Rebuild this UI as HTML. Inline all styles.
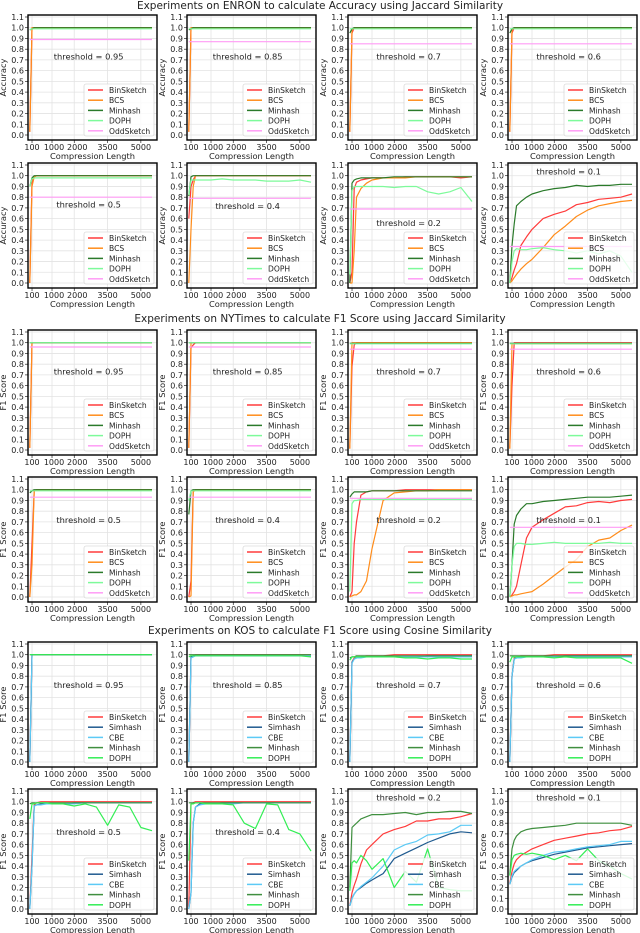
<!DOCTYPE html>
<html><head><meta charset="utf-8">
<style>
html,body{margin:0;padding:0;background:#fff;}
svg{display:block;font-family:"DejaVu Sans","Liberation Sans",sans-serif;}
</style></head>
<body>
<svg id="fig" width="640" height="933" viewBox="0 0 640 933" xmlns="http://www.w3.org/2000/svg"></svg>
<script>
const G = [0,100,200,300,500,750,1000,1500,2000,2500,3000,3500,4000,4500,5000,5500];
const xTicks = [100,1000,2000,3500,5000];
const xTickLabels = ["100","1000","2000","3500","5000"];
const yTicks = [0,0.1,0.2,0.3,0.4,0.5,0.6,0.7,0.8,0.9,1.0,1.1];
const sectionTitles = ["Experiments on ENRON to calculate Accuracy using Jaccard Similarity","Experiments on NYTimes to calculate F1 Score using Jaccard Similarity","Experiments on KOS to calculate F1 Score using Cosine Similarity"];
const yLabels = ["Accuracy","F1 Score","F1 Score"];
const namesJ = ["BinSketch","BCS","Minhash","DOPH","OddSketch"];
const namesC = ["BinSketch","Simhash","CBE","Minhash","DOPH"];
const thresholds = ["0.95","0.85","0.7","0.6","0.5","0.4","0.2","0.1"];
const labelY = [[0.73,0.73,0.73,0.73,0.73,0.72,0.56,1.04],[0.73,0.73,0.73,0.73,0.72,0.72,0.72,0.72],[0.72,0.72,0.72,0.72,0.72,0.72,1.04,1.04]];
function flat(v){return G.map(()=>v);}
function jump(a,b){return G.map((_,i)=>i===0?a:b);}
// ENRON
const e1=[jump(0.03,1),jump(0.03,1),[0.98,0.99,1,1,1,1,1,1,1,1,1,1,1,1,1,1],[0.98,0.99,0.99,0.99,0.99,0.99,0.99,0.99,0.99,0.99,0.99,0.99,0.99,0.99,0.99,0.99],flat(0.89)];
const e2=[jump(0.03,1),jump(0.03,1),[0.98,0.99,1,1,1,1,1,1,1,1,1,1,1,1,1,1],flat(0.99),flat(0.87)];
const e3=[[0.03,0.95,1,1,1,1,1,1,1,1,1,1,1,1,1,1],[0.03,0.98,1,1,1,1,1,1,1,1,1,1,1,1,1,1],[0.95,0.99,1,1,1,1,1,1,1,1,1,1,1,1,1,1],flat(0.99),flat(0.85)];
const e4=[[0.03,0.95,1,1,1,1,1,1,1,1,1,1,1,1,1,1],[0.03,0.98,1,1,1,1,1,1,1,1,1,1,1,1,1,1],[0.95,0.99,1,1,1,1,1,1,1,1,1,1,1,1,1,1],flat(0.99),flat(0.85)];
const e5=[[0,0.95,0.99,1,1,1,1,1,1,1,1,1,1,1,1,1],[0,0.9,0.99,1,1,1,1,1,1,1,1,1,1,1,1,1],[0.9,0.98,1,1,1,1,1,1,1,1,1,1,1,1,1,1],[0.9,0.97,0.98,0.98,0.98,0.98,0.98,0.98,0.98,0.98,0.98,0.98,0.98,0.98,0.98,0.98],flat(0.8)];
const e6=[[0.6,0.9,0.96,1,1,1,1,1,1,1,1,1,1,1,1,1],[0,0.5,0.9,1,1,1,1,1,1,1,1,1,1,1,1,1],[0.81,0.99,1,1,1,1,1,1,1,1,1,1,1,1,1,1],[0.82,0.96,0.96,0.96,0.96,0.96,0.96,0.97,0.96,0.96,0.96,0.95,0.95,0.95,0.96,0.94],flat(0.79)];
const e7=[[0,0.1,0.88,0.94,0.96,0.97,0.98,0.98,0.98,0.99,0.99,0.99,0.99,0.99,0.98,0.99],[0,0,0.3,0.8,0.88,0.93,0.96,0.98,0.98,0.98,0.99,0.99,0.99,0.99,0.99,0.99],[0,0.93,0.96,0.97,0.98,0.98,0.98,0.98,0.99,0.99,0.99,0.99,0.99,0.99,0.99,0.99],[0.08,0.86,0.9,0.9,0.9,0.9,0.9,0.9,0.89,0.9,0.9,0.85,0.83,0.85,0.89,0.76],flat(0.69)];
const e8=[[0,0.05,0.12,0.18,0.35,0.43,0.5,0.6,0.64,0.67,0.73,0.75,0.78,0.79,0.8,0.83],[0,0.02,0.05,0.08,0.13,0.18,0.22,0.33,0.45,0.53,0.62,0.68,0.72,0.74,0.76,0.77],[0,0.35,0.55,0.72,0.76,0.8,0.83,0.86,0.88,0.89,0.91,0.9,0.91,0.91,0.92,0.92],[0,0.2,0.3,0.32,0.31,0.31,0.32,0.33,0.31,0.3,0.28,0.3,0.27,0.3,0.25,0.1],flat(0.34)];
// NYTimes
const n1=[jump(0.02,1),jump(0.02,1),flat(1),flat(1),flat(0.96)];
const n2=[[0.02,0.95,0.98,1,1,1,1,1,1,1,1,1,1,1,1,1],jump(0.02,1),flat(1),flat(1),flat(0.96)];
const n3=[[0.02,0.78,0.98,1,1,1,1,1,1,1,1,1,1,1,1,1],jump(0.01,1),flat(0.995),flat(0.99),flat(0.94)];
const n4=[[0.02,0.6,1,1,1,1,1,1,1,1,1,1,1,1,1,1],jump(0.01,0.99),flat(0.995),flat(0.99),flat(0.94)];
const n5=[[0,0.5,0.99,1,1,1,1,1,1,1,1,1,1,1,1,1],[0,0.3,0.99,1,1,1,1,1,1,1,1,1,1,1,1,1],[0.97,0.99,1,1,1,1,1,1,1,1,1,1,1,1,1,1],flat(0.99),flat(0.93)];
const n6=[[0,0.15,0.99,1,1,1,1,1,1,1,1,1,1,1,1,1],[0,0.01,0.98,1,1,1,1,1,1,1,1,1,1,1,1,1],[0.77,0.99,1,1,1,1,1,1,1,1,1,1,1,1,1,1],[0.9,0.99,0.99,0.99,0.99,0.99,0.99,0.99,0.99,0.99,0.99,0.99,0.99,0.99,0.99,0.99],flat(0.93)];
const n7=[[0,0.05,0.5,0.7,0.95,0.98,0.99,0.99,0.99,1,1,1,1,1,1,1],[0,0.01,0.02,0.02,0.05,0.15,0.45,0.9,0.97,0.98,0.99,0.99,1,1,1,1],[0.93,0.96,0.98,0.98,0.98,0.98,0.99,0.99,0.99,0.99,0.99,0.99,0.99,0.99,0.99,0.99],[0.05,0.87,0.9,0.9,0.91,0.91,0.91,0.91,0.91,0.91,0.91,0.91,0.91,0.91,0.91,0.91],flat(0.92)];
const n8=[[0,0.02,0.05,0.1,0.3,0.55,0.65,0.72,0.78,0.84,0.85,0.88,0.89,0.88,0.9,0.91],[0,0.01,0.02,0.02,0.03,0.04,0.05,0.12,0.2,0.28,0.35,0.47,0.53,0.55,0.62,0.67],[0,0.3,0.68,0.76,0.82,0.87,0.87,0.89,0.9,0.91,0.92,0.93,0.93,0.93,0.94,0.95],[0,0.3,0.47,0.5,0.5,0.49,0.49,0.5,0.51,0.5,0.5,0.5,0.5,0.51,0.5,0.5],flat(0.65)];
// KOS
const k1=[jump(0,1),jump(0,1),jump(0,1),flat(1),flat(1)];
const k2=[[0,0.98,0.99,1,1,1,1,1,1,1,1,1,1,1,1,1],[0,0.98,0.99,0.99,0.99,0.99,0.99,0.99,0.99,0.99,0.99,0.99,0.99,0.99,0.99,0.99],[0,0.97,0.98,0.99,0.99,0.99,0.99,0.99,0.99,0.99,0.99,0.99,0.99,0.99,0.99,0.99],flat(1),[0.98,0.99,0.99,0.99,0.99,0.99,0.99,0.99,0.99,0.99,0.99,0.99,0.99,0.99,0.99,0.98]];
const k3=[[0,0.93,0.97,0.98,0.98,0.99,0.99,0.99,1,1,1,1,1,1,1,1],[0,0.93,0.96,0.97,0.98,0.98,0.98,0.98,0.98,0.98,0.98,0.99,0.99,0.99,0.99,0.99],[0,0.92,0.96,0.97,0.97,0.98,0.98,0.98,0.98,0.98,0.98,0.98,0.98,0.98,0.98,0.98],[0.97,0.98,0.98,0.99,0.99,0.99,0.99,0.99,0.99,0.99,0.99,0.99,0.99,0.99,0.99,0.99],[0.95,0.98,0.98,0.98,0.98,0.98,0.98,0.98,0.98,0.97,0.97,0.96,0.97,0.97,0.96,0.96]];
const k4=[[0,0.8,0.97,0.98,0.99,0.99,0.99,0.99,1,1,1,1,1,1,1,1],[0,0.8,0.96,0.97,0.98,0.98,0.98,0.98,0.98,0.99,0.99,0.99,0.99,0.99,0.99,0.99],[0,0.8,0.96,0.97,0.97,0.98,0.98,0.98,0.98,0.98,0.98,0.98,0.98,0.98,0.98,0.98],flat(0.99),[0.93,0.98,0.98,0.98,0.98,0.98,0.98,0.98,0.97,0.98,0.97,0.97,0.97,0.97,0.97,0.92]];
const k5=[[0.01,0.5,0.97,0.99,1,1,1,1,1,1,1,1,1,1,1,1],[0,0.4,0.96,0.97,0.98,0.98,0.98,0.98,0.99,0.99,0.99,0.99,0.99,0.99,0.99,0.99],[0,0.4,0.96,0.97,0.97,0.98,0.98,0.98,0.98,0.99,0.99,0.99,0.99,0.99,0.99,0.99],[0.98,0.99,0.99,0.99,0.99,0.99,0.99,0.99,0.99,0.99,0.99,0.99,0.99,0.99,0.99,0.99],[0.84,0.98,0.98,0.99,0.99,0.99,0.98,0.98,0.96,0.98,0.95,0.78,0.97,0.95,0.76,0.73]];
const k6=[[0.02,0.98,0.99,1,1,1,1,1,1,1,1,1,1,1,1,1],[0,0.15,0.8,0.95,0.98,0.98,0.98,0.99,0.99,0.99,0.99,0.99,0.99,0.99,0.99,0.99],[0,0.15,0.8,0.95,0.97,0.98,0.98,0.98,0.98,0.99,0.99,0.99,0.99,0.99,0.99,0.99],flat(0.99),[0.45,0.98,0.98,0.99,0.99,0.98,0.98,0.98,0.97,0.8,0.75,0.98,0.97,0.74,0.7,0.54]];
const k7=[[0.03,0.15,0.22,0.28,0.42,0.55,0.6,0.7,0.74,0.77,0.82,0.82,0.84,0.84,0.86,0.89],[0.03,0.1,0.14,0.17,0.2,0.24,0.27,0.33,0.47,0.52,0.57,0.62,0.66,0.7,0.72,0.71],[0.03,0.1,0.14,0.17,0.21,0.25,0.29,0.4,0.55,0.6,0.63,0.69,0.7,0.72,0.78,0.78],[0.2,0.76,0.78,0.8,0.84,0.86,0.88,0.88,0.89,0.9,0.88,0.9,0.9,0.91,0.91,0.89],[0.17,0.43,0.45,0.43,0.5,0.45,0.37,0.47,0.2,0.35,0.25,0.56,0.2,0.18,0.17,0.17]];
const k8=[[0.24,0.35,0.42,0.46,0.5,0.53,0.56,0.6,0.64,0.66,0.68,0.7,0.71,0.73,0.74,0.77],[0.23,0.3,0.34,0.36,0.4,0.43,0.45,0.48,0.51,0.53,0.55,0.57,0.58,0.59,0.6,0.61],[0.23,0.31,0.35,0.37,0.4,0.43,0.46,0.5,0.53,0.54,0.56,0.58,0.59,0.6,0.63,0.63],[0.32,0.56,0.64,0.68,0.72,0.74,0.75,0.76,0.77,0.78,0.8,0.8,0.8,0.8,0.8,0.78],[0.31,0.46,0.5,0.51,0.52,0.51,0.52,0.5,0.46,0.5,0.45,0.56,0.45,0.4,0.33,0.28]];
const sectionData=[[e1,e2,e3,e4,e5,e6,e7,e8],[n1,n2,n3,n4,n5,n6,n7,n8],[k1,k2,k3,k4,k5,k6,k7,k8]];

const colorsJ=["#ff3b3b","#ff8c1a","#2a7a2a","#7dfa9a","#ff9cf5"];
const colorsC=["#ff3b3b","#1f5a8f","#5ccaf5","#3f8f3f","#33ee55"];
const rowTops=[15,163,330,477,642,789];
const colLefts=[28,187,348,508];
const PW=129, PH=125;
const titleY=[9,322,634];
const NS="http://www.w3.org/2000/svg";
const svg=document.getElementById('fig');
function el(tag,attrs,parent){const e=document.createElementNS(NS,tag);for(const k in attrs)e.setAttribute(k,attrs[k]);(parent||svg).appendChild(e);return e;}

sectionTitles.forEach((t,s)=>{
  const e=el('text',{x:320,y:titleY[s],'text-anchor':'middle','font-size':10.5,fill:'#222'});
  
  
  e.textContent=t;
});

for(let s=0;s<3;s++){
  for(let p=0;p<8;p++){
    const r=s*2+Math.floor(p/4), c=p%4;
    const L=colLefts[c], T=rowTops[r];
    const xs=v=>L+(v+81)/5807*PW;
    const ys=v=>T+2+(1.1-v)/1.1*(PH-7);
    const g=el('g',{});
    
    
    xTicks.forEach(t=>{el('line',{x1:xs(t),x2:xs(t),y1:T,y2:T+PH,stroke:'#e3e3e3','stroke-width':0.8},g);});
    yTicks.forEach(t=>{el('line',{x1:L,x2:L+PW,y1:ys(t),y2:ys(t),stroke:'#e3e3e3','stroke-width':0.8},g);});
    yTicks.forEach(t=>{
      el('line',{x1:L-3,x2:L,y1:ys(t),y2:ys(t),stroke:'#000','stroke-width':0.6},g);
      const tx=el('text',{x:L-4,y:ys(t)+3,'text-anchor':'end','font-size':8,fill:'#222'},g);
      
      
      tx.textContent=t.toFixed(1);
    });
    xTicks.forEach((t,i)=>{
      el('line',{x1:xs(t),x2:xs(t),y1:T+PH,y2:T+PH+3,stroke:'#000','stroke-width':0.6},g);
      const tx=el('text',{x:xs(t)+(i===1?2:i===2?3:0),y:T+PH+10,'text-anchor':'middle','font-size':8,fill:'#222'},g);
      
      
      tx.textContent=xTickLabels[i];
    });
    const xl=el('text',{x:L+PW/2,y:T+PH+19,'text-anchor':'middle','font-size':8.3,fill:'#222'},g);
    
    
    xl.textContent='Compression Length';
    const yx=L-22, yy=T+PH/2;
    const yl=el('text',{x:yx,y:yy,'text-anchor':'middle','font-size':8.3,fill:'#222',transform:'rotate(-90 '+yx+' '+yy+')'},g);
    
    
    yl.textContent=yLabels[s];
    const data=sectionData[s][p];
    const cols=s<2?colorsJ:colorsC;
    const names=s<2?namesJ:namesC;
    data.forEach((vals,k)=>{
      const d=vals.map((v,i)=>(i?'L':'M')+xs(G[i]).toFixed(1)+' '+ys(v).toFixed(1)).join(' ');
      const pth=el('path',{d:d,fill:'none',stroke:cols[k],'stroke-width':1.2,'stroke-linejoin':'round'},g);
      
      
    });
    const th=el('text',{x:xs(2650),y:ys(labelY[s][p])+3,'text-anchor':'middle','font-size':8.3,fill:'#222'},g);
    
    
    th.textContent='threshold = '+thresholds[p];
    const lw=70, lh=52, lx=L+PW-lw-3, ly=T+PH-lh-4;
    const lg=el('g',{},g);
    
    
    el('rect',{x:lx,y:ly,width:lw,height:lh,rx:2,fill:'#fff','fill-opacity':0.8,stroke:'#ccc','stroke-width':0.6},lg);
    names.forEach((n,k)=>{
      const ey=ly+6+k*10.2;
      el('line',{x1:lx+4,x2:lx+19,y1:ey,y2:ey,stroke:cols[k],'stroke-width':1.5},lg);
      const t=el('text',{x:lx+25,y:ey+3,'text-anchor':'start','font-size':7.6,fill:'#222'},lg);
      
      
      t.textContent=n;
    });
    el('rect',{x:L,y:T,width:PW,height:PH,fill:'none',stroke:'#000','stroke-width':1.4},g);
  }
}
</script>
</body></html>
